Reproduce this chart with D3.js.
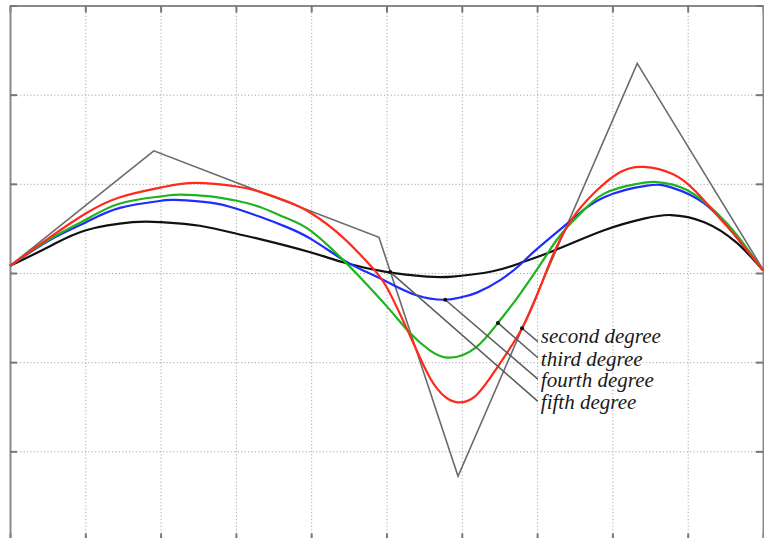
<!DOCTYPE html>
<html>
<head>
<meta charset="utf-8">
<script src="https://cdn.jsdelivr.net/npm/d3@7"></script>
<style>
  html, body { margin: 0; padding: 0; background: #ffffff; }
  svg { display: block; }
  .grid line { stroke: #a8a8a8; stroke-width: 1; stroke-dasharray: 1.2 2.2; }
  .grid path { display: none; }
  .frame path { stroke: #8a8a8a; stroke-width: 2; }
  .frame line { stroke: #777; stroke-width: 2; }
  .frame text { display: none; }
</style>
</head>
<body>
<svg id="chart" width="764" height="538"></svg>
<script>
// Control polygon of the spline family
const controlX = [0, 1.91, 4.90, 5.95, 8.33, 10];
const controlY = [0.08, 1.37, 0.40, -2.28, 2.35, 0.04];

// Sampled curve points [x, y] for each spline degree
const secondDegree = [
  [0, 0.08], [0.53, 0.40], [1.01, 0.67], [1.46, 0.85], [2.01, 0.96], [2.46, 1.01],
  [3.01, 0.97], [3.32, 0.91], [3.66, 0.81], [4.00, 0.67], [4.42, 0.40], [4.78, 0.09], [5.01, -0.17],
  [5.31, -0.70], [5.58, -1.18], [5.78, -1.39], [5.94, -1.45], [6.18, -1.38], [6.47, -1.06],
  [6.80, -0.62], [7.04, -0.16], [7.22, 0.22], [7.45, 0.59], [7.76, 0.90], [8.10, 1.13],
  [8.42, 1.19], [8.80, 1.11], [9.10, 0.92], [9.39, 0.65], [9.65, 0.40], [10, 0.03]
];
const thirdDegree = [
  [0, 0.08], [0.53, 0.38], [1.01, 0.60], [1.46, 0.78], [2.01, 0.86], [2.26, 0.88],
  [2.66, 0.86], [3.01, 0.81], [3.32, 0.74], [3.66, 0.62], [4.00, 0.47], [4.42, 0.15], [4.65, -0.05],
  [5.01, -0.38], [5.31, -0.67], [5.58, -0.87], [5.84, -0.95], [6.18, -0.84], [6.48, -0.56],
  [6.71, -0.31], [6.91, -0.07], [7.11, 0.18], [7.26, 0.37], [7.45, 0.56], [7.58, 0.67],
  [7.89, 0.89], [8.33, 1.00], [8.59, 1.02], [8.99, 0.93], [9.39, 0.67], [9.65, 0.43], [10, 0.03]
];
const fourthDegree = [
  [0, 0.08], [0.53, 0.37], [1.01, 0.57], [1.46, 0.73], [2.01, 0.81], [2.19, 0.82],
  [2.66, 0.79], [3.01, 0.72], [3.32, 0.63], [3.66, 0.52], [4.00, 0.38], [4.42, 0.15], [4.71, 0.02],
  [5.01, -0.10], [5.40, -0.25], [5.78, -0.30], [6.00, -0.27], [6.20, -0.22], [6.51, -0.08],
  [6.77, 0.09], [7.00, 0.27], [7.45, 0.59], [7.89, 0.85], [8.46, 0.98], [8.78, 0.96],
  [9.22, 0.78], [9.65, 0.40], [10, 0.03]
];
const fifthDegree = [
  [0, 0.08], [0.53, 0.30], [1.01, 0.48], [1.63, 0.57], [2.01, 0.57], [2.52, 0.53],
  [3.01, 0.44], [3.32, 0.38], [4.00, 0.23], [4.42, 0.12], [5.01, 0.01], [5.54, -0.04],
  [5.88, -0.04], [6.41, 0.02], [6.77, 0.11], [7.22, 0.25], [7.89, 0.48], [8.42, 0.61],
  [8.78, 0.65], [9.22, 0.57], [9.65, 0.34], [10, 0.03]
];

// Labels and their leader lines: point on curve -> start of label
const labelNames = ["second degree", "third degree", "fourth degree", "fifth degree"];
const leaderFrom = [[6.80, -0.62], [6.48, -0.56], [5.78, -0.30], [5.05, 0.01]];
const leaderTo = [[7.01, -0.77], [7.01, -0.95], [7.01, -1.19], [7.01, -1.44]];
const labelY = [-0.79, -1.04, -1.28, -1.53];
const labelX = 7.05;

// Ticks
const xTicks = d3.range(0, 11, 1);
const yTicks = d3.range(-3, 4, 1);

const svg = d3.select("#chart");
const plotLeft = 10, plotRight = 763, plotTop = 5.5, plotBottom = 540.5;

const x = d3.scaleLinear().domain([0, 10]).range([plotLeft, plotRight]);
const y = d3.scaleLinear().domain([-3, 3]).range([plotBottom, plotTop]);

// Dotted grid
svg.append("g").attr("class", "grid")
  .attr("transform", `translate(0,${plotBottom})`)
  .call(d3.axisBottom(x).tickValues(xTicks.slice(1, -1)).tickSize(-(plotBottom - plotTop)).tickFormat(""));
svg.append("g").attr("class", "grid")
  .attr("transform", `translate(${plotLeft},0)`)
  .call(d3.axisLeft(y).tickValues(yTicks.slice(1, -1)).tickSize(-(plotRight - plotLeft)).tickFormat(""));

// Frame with inward ticks on all four sides
const tickLen = 7;
svg.append("g").attr("class", "frame").attr("transform", `translate(0,${plotTop})`)
  .call(d3.axisTop(x).tickValues(xTicks).tickSizeInner(-tickLen).tickSizeOuter(0).tickFormat(""));
svg.append("g").attr("class", "frame").attr("transform", `translate(0,${plotBottom})`)
  .call(d3.axisBottom(x).tickValues(xTicks).tickSizeInner(-tickLen).tickSizeOuter(0).tickFormat(""));
svg.append("g").attr("class", "frame").attr("transform", `translate(${plotLeft},0)`)
  .call(d3.axisLeft(y).tickValues(yTicks).tickSizeInner(-tickLen).tickSizeOuter(0).tickFormat(""));
svg.append("g").attr("class", "frame").attr("transform", `translate(${plotRight},0)`)
  .call(d3.axisRight(y).tickValues(yTicks).tickSizeInner(-tickLen).tickSizeOuter(0).tickFormat(""));

// Control polygon
const polyLine = d3.line().x(d => x(d[0])).y(d => y(d[1]));
svg.append("path")
  .datum(controlX.map((v, i) => [v, controlY[i]]))
  .attr("d", polyLine)
  .attr("fill", "none")
  .attr("stroke", "#6a6a6a")
  .attr("stroke-width", 1.6)
  .attr("stroke-linejoin", "miter");

// Spline curves
const smooth = d3.line().x(d => x(d[0])).y(d => y(d[1])).curve(d3.curveNatural);
const series = [
  { data: fifthDegree, color: "#111111" },
  { data: fourthDegree, color: "#1f2cff" },
  { data: thirdDegree, color: "#1fb41f" },
  { data: secondDegree, color: "#ff2a1a" }
];
series.forEach(s => {
  svg.append("path")
    .datum(s.data)
    .attr("d", smooth)
    .attr("fill", "none")
    .attr("stroke", s.color)
    .attr("stroke-width", 2.2);
});

// Leader lines, dots and labels
leaderFrom.forEach((p, i) => {
  svg.append("line")
    .attr("x1", x(p[0])).attr("y1", y(p[1]))
    .attr("x2", x(leaderTo[i][0])).attr("y2", y(leaderTo[i][1]))
    .attr("stroke", "#5a5a5a").attr("stroke-width", 1.5);
  svg.append("circle")
    .attr("cx", x(p[0])).attr("cy", y(p[1])).attr("r", 2)
    .attr("fill", "#111");
  svg.append("text")
    .attr("x", x(labelX)).attr("y", y(labelY[i]))
    .attr("font-family", "'Liberation Serif', 'DejaVu Serif', serif")
    .attr("font-style", "italic")
    .attr("font-size", 21)
    .attr("fill", "#1a1a1a")
    .text(labelNames[i]);
});
</script>
</body>
</html>
